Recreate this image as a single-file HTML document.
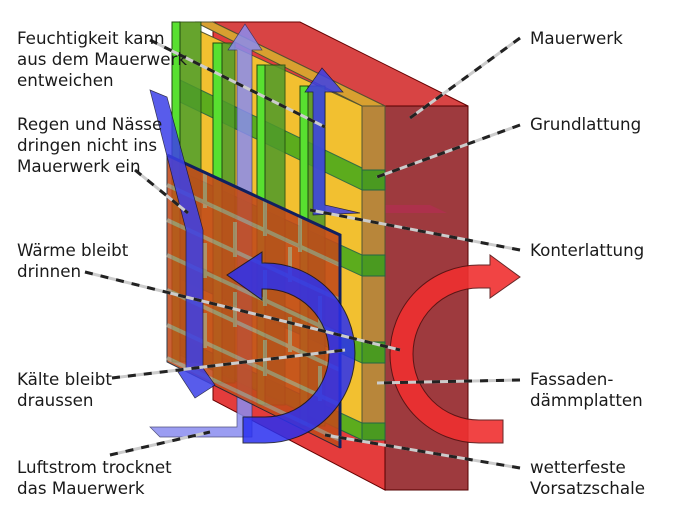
<!DOCTYPE html>
<html><head><meta charset="utf-8"><style>
html,body{margin:0;padding:0;background:#fff;}
svg{display:block}
text{font-family:"DejaVu Sans","Liberation Sans",sans-serif;font-size:16.7px;fill:#1a1a1a}
</style></head><body>
<svg width="683" height="512" viewBox="0 0 683 512" xmlns="http://www.w3.org/2000/svg">
<!-- Mauerwerk -->
<polygon points="213,22 385,106 385,490 213,400" fill="#e43c3c" stroke="#600" stroke-width="1"/>
<polygon points="213,22 300,22 468,106 385,106" fill="#d84444" stroke="#600" stroke-width="1"/>
<rect x="385" y="106" width="83" height="384" fill="#9e3a3e" stroke="#500" stroke-width="1"/>
<polygon points="385,205 430,205 447,213 385,213" fill="#b03050" opacity="0.8"/>
<!-- insulation -->
<polygon points="180,22 362,106 362,440 180,352" fill="#f2c030" stroke="#553" stroke-width="1"/>
<polygon points="195,22 213,22 385,106 362,106" fill="#d8a030" stroke="#553" stroke-width="1"/>
<rect x="362" y="106" width="23" height="334" fill="#b8863a" stroke="#553" stroke-width="1"/>
<rect x="180" y="22" width="20" height="200" fill="#f6e040"/>
<!-- Grundlattung bands -->
<g fill="#4caa1c" stroke="#264" stroke-width="1" opacity="0.9">
<polygon points="180,80 362,168 362,190 180,102"/>
<polygon points="180,171 362,255 362,276 180,192"/>
<polygon points="180,258 362,342 362,363 180,279"/>
<polygon points="180,338 362,423 362,440 180,355"/>
</g>
<g fill="#4a9a20" stroke="#264" stroke-width="1">
<rect x="362" y="170" width="23" height="20"/><rect x="362" y="255" width="23" height="21"/>
<rect x="362" y="342" width="23" height="21"/><rect x="362" y="423" width="23" height="17"/>
</g>
<!-- Konterlattung -->
<g stroke="#1f4a10" stroke-width="1">
<rect x="172" y="22" width="8" height="340" fill="#58e030"/><rect x="180" y="22" width="21" height="340" fill="#4e9a2a" opacity="0.85"/>
<rect x="213" y="43" width="9" height="340" fill="#58e030"/><rect x="222" y="43" width="13" height="340" fill="#4e9a2a" opacity="0.85"/>
<rect x="257" y="65" width="8" height="340" fill="#58e030"/><rect x="265" y="65" width="20" height="340" fill="#4e9a2a" opacity="0.85"/>
<rect x="300" y="86" width="8" height="340" fill="#58e030"/><rect x="308" y="86" width="17" height="340" fill="#4e9a2a" opacity="0.85"/>
</g>
<!-- lavender air arrow (behind brick) -->
<polygon points="150,427 237,427 237,50 228,50 245,24 262,50 252,50 252,437 160,437" fill="#8a8cf0" opacity="0.85" stroke="#336" stroke-width="0.7"/>
<!-- brick facade -->
<g opacity="0.88">
<polygon points="167,155 340,235 340,448 167,362" fill="#c24a1a" stroke="#123" stroke-width="1"/>
<g stroke="#a09a80" stroke-width="4" opacity="0.85" fill="none">
<line x1="167" y1="185" x2="340" y2="265"/><line x1="167" y1="220" x2="340" y2="300"/>
<line x1="167" y1="255" x2="340" y2="335"/><line x1="167" y1="290" x2="340" y2="370"/>
<line x1="167" y1="325" x2="340" y2="405"/><line x1="167" y1="358" x2="340" y2="440"/>
<line x1="205" y1="173" x2="205" y2="208"/><line x1="265" y1="200" x2="265" y2="236"/><line x1="300" y1="217" x2="300" y2="252"/>
<line x1="235" y1="222" x2="235" y2="257"/><line x1="290" y1="247" x2="290" y2="282"/>
<line x1="205" y1="243" x2="205" y2="278"/><line x1="265" y1="270" x2="265" y2="306"/><line x1="320" y1="296" x2="320" y2="331"/>
<line x1="235" y1="292" x2="235" y2="327"/><line x1="290" y1="317" x2="290" y2="352"/>
<line x1="205" y1="313" x2="205" y2="348"/><line x1="265" y1="340" x2="265" y2="376"/><line x1="320" y1="366" x2="320" y2="401"/>
</g>
</g>
<polyline points="167,155 340,235 340,448" fill="none" stroke="#102060" stroke-width="3"/>
<polygon points="313,208 313,92 305,92 322,68 343,92 325,92 325,205 360,213 313,215" fill="#3c40e8" opacity="0.85" stroke="#113" stroke-width="0.7"/>
<polygon points="150,90 167,97 203,230 203,368 215,385 195,398 178,372 186,370 186,230" fill="#3c40e8" opacity="0.85" stroke="#113" stroke-width="0.7"/>
<!-- big blue arrow -->
<path d="M265,263 A90,90 0 0 1 265,443 L243,443 L243,417 L265,417 A64,64 0 0 0 265,289 L262,289 L262,300 L227,275 L262,252 L262,263 Z" fill="#2a30f0" opacity="0.85" stroke="#112" stroke-width="1"/>
<!-- red arrow -->
<path d="M479,265 L490,265 L490,255 L520,277 L490,298 L490,288 L479,288 A66,66 0 0 0 479,420 L503,420 L503,443 L479,443 A89,89 0 0 1 479,265 Z" fill="#f03030" opacity="0.9" stroke="#511" stroke-width="1"/>
<!-- leaders -->
<g stroke-width="3" fill="none">
<g stroke="#ccc">
<line x1="150" y1="40" x2="325" y2="127"/><line x1="135" y1="170" x2="188" y2="213"/>
<line x1="85" y1="272" x2="400" y2="350"/><line x1="112" y1="378" x2="345" y2="350"/>
<line x1="110" y1="455" x2="210" y2="432"/><line x1="520" y1="38" x2="410" y2="118"/>
<line x1="520" y1="125" x2="377" y2="177"/><line x1="520" y1="250" x2="310" y2="210"/>
<line x1="520" y1="380" x2="377" y2="383"/><line x1="520" y1="468" x2="325" y2="435"/>
</g>
<g stroke="#222" stroke-dasharray="8 8">
<line x1="150" y1="40" x2="325" y2="127"/><line x1="135" y1="170" x2="188" y2="213"/>
<line x1="85" y1="272" x2="400" y2="350"/><line x1="112" y1="378" x2="345" y2="350"/>
<line x1="110" y1="455" x2="210" y2="432"/><line x1="520" y1="38" x2="410" y2="118"/>
<line x1="520" y1="125" x2="377" y2="177"/><line x1="520" y1="250" x2="310" y2="210"/>
<line x1="520" y1="380" x2="377" y2="383"/><line x1="520" y1="468" x2="325" y2="435"/>
</g>
</g>
<!-- labels -->
<text x="17" y="44">Feuchtigkeit kann</text><text x="17" y="65">aus dem Mauerwerk</text><text x="17" y="86">entweichen</text>
<text x="17" y="130">Regen und Nässe</text><text x="17" y="151">dringen nicht ins</text><text x="17" y="172">Mauerwerk ein</text>
<text x="17" y="256">Wärme bleibt</text><text x="17" y="277">drinnen</text>
<text x="17" y="385">Kälte bleibt</text><text x="17" y="406">draussen</text>
<text x="17" y="473">Luftstrom trocknet</text><text x="17" y="494">das Mauerwerk</text>
<text x="530" y="44">Mauerwerk</text><text x="530" y="130">Grundlattung</text><text x="530" y="256">Konterlattung</text>
<text x="530" y="385">Fassaden-</text><text x="530" y="406">dämmplatten</text>
<text x="530" y="473">wetterfeste</text><text x="530" y="494">Vorsatzschale</text>
</svg>
</body></html>
